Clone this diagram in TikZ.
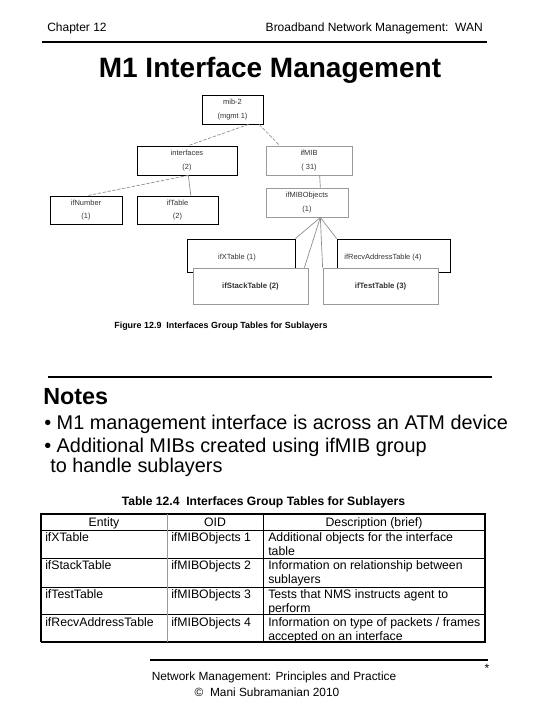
\documentclass[tikz,border=0pt]{standalone}
\usepackage{fontspec}
\setmainfont{Liberation Sans}
\usetikzlibrary{calc}
\definecolor{boxgray}{HTML}{9A9A9A}
\definecolor{txtgray}{HTML}{333333}
\definecolor{linegray}{HTML}{8A8A8A}
\begin{document}
\begin{tikzpicture}[x=0.75pt,y=-0.75pt,
  hdr/.style={font=\fontsize{9}{11}\selectfont, inner sep=0pt},
  bk/.style={draw=black, line width=0.6pt, fill=white, inner sep=0pt, align=center,
             font=\fontsize{5.6}{10.2}\selectfont, text=txtgray},
  bg/.style={bk, draw=boxgray},
  conn/.style={draw=linegray, line width=0.5pt},
  dconn/.style={conn, dash pattern=on 2.5pt off 1.2pt},
  rulel/.style={line width=1.8pt},
  cell/.style={anchor=north west, inner sep=0pt, align=left, font=\fontsize{9.2}{10.6}\selectfont},
  hcell/.style={anchor=base, inner sep=0pt, font=\fontsize{9.2}{10}\selectfont}]
\useasboundingbox (0,0) rectangle (540,720);
\fill[white] (0,0) rectangle (540,720);

% header
\node[hdr, anchor=west] (chap) at (47,28) {Chapter 12};
\node[hdr, anchor=east] (book) at (483,28) {Broadband Network Management:\ \ WAN};
\draw[rulel] (42,42) -- (487,42);
\node[inner sep=0pt, font=\bfseries\fontsize{21}{25}\selectfont] (title) at (270,70) {M1 Interface Management};

% diagram
\node[bk, minimum width=45.75pt, minimum height=21.75pt] (mib) at (232.5,109.5) {mib-2\\(mgmt 1)};
\node[bk, minimum width=75pt, minimum height=21.75pt] (intf) at (187,160.5) {interfaces\\(2)};
\node[bg, minimum width=64.5pt, minimum height=21.75pt] (ifmib) at (309,160.5) {ifMIB\\( 31)};
\node[bk, minimum width=54pt, minimum height=21pt] (ifnum) at (86,210) {ifNumber\\(1)};
\node[bk, minimum width=60.75pt, minimum height=21pt] (iftab) at (177.5,210) {ifTable\\(2)};
\node[bg, minimum width=61.5pt, minimum height=21.75pt] (mibobj) at (307,202.5) {ifMIBObjects\\(1)};

\node[bk, minimum width=81pt, minimum height=24.75pt] (ifx) at (241,255.5) {};
\node[bk, minimum width=84.75pt, minimum height=24.75pt] (recv) at (393.5,255.5) {};
\node[inner sep=0pt, font=\fontsize{5.6}{7}\selectfont, text=txtgray] (ifxt) at (237,258) {ifXTable (1)};
\node[inner sep=0pt, font=\fontsize{5.6}{7}\selectfont, text=txtgray] (recvt) at (383,258) {ifRecvAddressTable (4)};
\node[bg, minimum width=86.25pt, minimum height=27pt, font=\fontsize{5.8}{7}\selectfont\bfseries] (stack) at (250.5,286) {ifStackTable (2)};
\node[bg, minimum width=86.25pt, minimum height=27pt, font=\fontsize{5.8}{7}\selectfont\bfseries] (test) at (380.5,286) {ifTestTable (3)};

\draw[dconn] ([xshift=12]mib.south) -- ([xshift=1]intf.north);
\draw[dconn] ([xshift=20]mib.south) -- ([xshift=-22]ifmib.north);
\draw[dconn] ([xshift=1]intf.south) -- ([xshift=1]ifnum.north);
\draw[conn] ([xshift=1]intf.south) -- ([xshift=10]iftab.north);
\draw[conn] ([xshift=8]ifmib.south) -- ([xshift=10]mibobj.north);
\draw[conn] ([xshift=10]mibobj.south) -- (ifx.north east);
\draw[conn] ([xshift=10]mibobj.south) -- ([xshift=-3]stack.north east);
\draw[conn] ([xshift=10]mibobj.south) -- (test.north west);
\draw[conn] ([xshift=10]mibobj.south) -- (recv.north west);

\node[inner sep=0pt, font=\bfseries\fontsize{6.7}{8}\selectfont] (figcap) at (221,326) {Figure 12.9\ \ Interfaces Group Tables for Sublayers};

% notes
\draw[rulel] (48,377) -- (492,377);
\node[anchor=west, inner sep=0pt, font=\bfseries\fontsize{17.5}{20}\selectfont] (notes) at (43,397) {Notes};
\node[anchor=west, inner sep=0pt, font=\fontsize{14.9}{17}\selectfont] (b1) at (44,424) {• M1 management interface is across an ATM device};
\node[anchor=west, inner sep=0pt, font=\fontsize{14.9}{17}\selectfont] (b2) at (44,447) {• Additional MIBs created using ifMIB group};
\node[anchor=west, inner sep=0pt, font=\fontsize{14.9}{17}\selectfont] (b3) at (50,467) {to handle sublayers};

% table
\node[inner sep=0pt, font=\bfseries\fontsize{9.1}{10}\selectfont] (tabcap) at (263.5,502) {Table 12.4\ \ Interfaces Group Tables for Sublayers};
\draw[line width=0.9pt] (41,642) -- (41,514) -- (485,514) -- (485,642);
\draw[line width=1.6pt] (40.5,642) -- (485.5,642);
\draw[line width=0.7pt] (41,530) -- (485,530);
\draw[line width=0.7pt] (41,558) -- (485,558);
\draw[line width=0.7pt] (41,587) -- (485,587);
\draw[line width=0.7pt] (41,614) -- (485,614);
\draw[line width=0.7pt, draw=boxgray] (167,514) -- (167,642);
\draw[line width=0.7pt] (263,514) -- (263,642);

\node[hcell] (h1) at (104,526.5) {Entity};
\node[hcell] (h2) at (215,526.5) {OID};
\node[hcell] (h3) at (374,526.5) {Description (brief)};

\node[cell] (e1) at (45,532.5) {ifXTable};
\node[cell] (o1) at (171,532.5) {ifMIBObjects 1};
\node[cell] (d1) at (268,532.5) {Additional objects for the interface\\table};
\node[cell] (e2) at (45,560.5) {ifStackTable};
\node[cell] (o2) at (171,560.5) {ifMIBObjects 2};
\node[cell] (d2) at (268,560.5) {Information on relationship between\\sublayers};
\node[cell] (e3) at (45,589) {ifTestTable};
\node[cell] (o3) at (171,589) {ifMIBObjects 3};
\node[cell] (d3) at (268,589) {Tests that NMS instructs agent to\\perform};
\node[cell] (e4) at (45,617) {ifRecvAddressTable};
\node[cell] (o4) at (171,617) {ifMIBObjects 4};
\node[cell] (d4) at (268,617) {Information on type of packets / frames\\accepted on an interface};

% footer
\draw[rulel] (150,660) -- (488,660);
\node[inner sep=0pt, font=\fontsize{9}{10}\selectfont] (star) at (487,668) {*};
\node[inner sep=0pt, font=\fontsize{8.9}{10}\selectfont] (f1) at (274,677) {Network Management: Principles and Practice};
\node[inner sep=0pt, font=\fontsize{8.9}{10}\selectfont] (f2) at (267,692) {©\ \ Mani Subramanian 2010};
\end{tikzpicture}
\end{document}
